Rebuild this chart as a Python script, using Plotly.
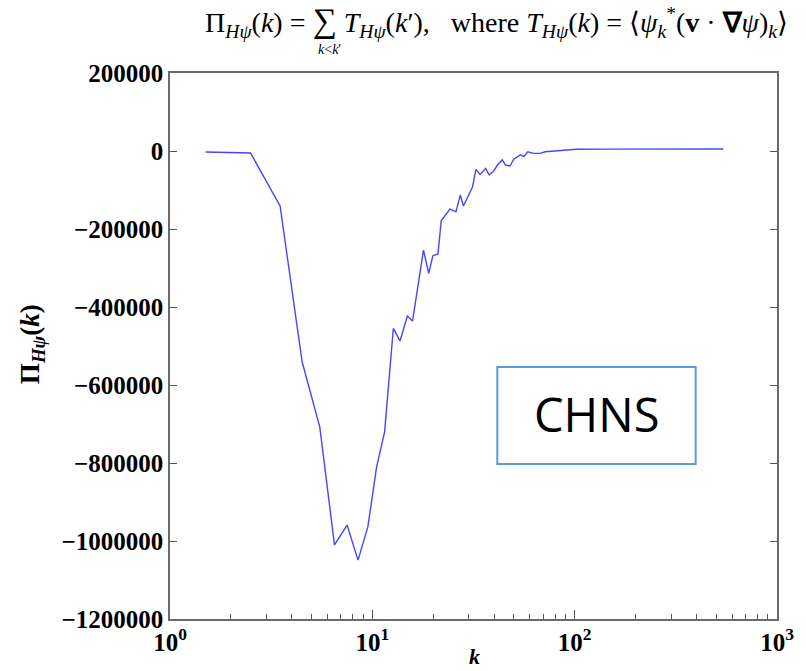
import plotly.graph_objects as go

# wavenumber k and flux Pi_Hpsi(k)
k_vals = [1.5, 2.5, 3.5, 4.5, 5.5, 6.5, 7.5, 8.5, 9.5, 10.5, 11.5,
          12.7, 13.7, 14.9, 15.8, 17.9, 19.0, 19.9, 21.1, 21.9, 24.2,
          25.9, 27.2, 28.2, 31.3, 32.5, 34.1, 36.3, 37.8, 39.9, 41.5,
          43.9, 45.5, 47.9, 50.0, 53.9, 56.1, 58.6, 62.8, 67.6, 71.5,
          78.7, 88.0, 102.0, 150.0, 250.0, 400.0, 543.0]
pi_vals = [-2500, -5000, -141000, -541000, -708000, -1010000, -959000,
           -1049000, -964000, -810000, -720000,
           -455000, -487000, -423000, -436000, -254000, -314000, -269000,
           -264000, -179000, -149000, -156000, -113000, -141000, -91500,
           -47000, -60000, -44500, -61500, -50500, -36000, -23000, -36000,
           -38500, -21000, -10000, -14500, -2000, -6000, -6000, -2000,
           0, 2500, 4300, 4800, 5000, 5000, 5000]

y_ticks = [200000, 0, -200000, -400000, -600000, -800000, -1000000, -1200000]
y_ticktext = ["200000", "0", "\u2212200000", "\u2212400000", "\u2212600000",
              "\u2212800000", "\u22121000000", "\u22121200000"]
x_ticks = [1, 10, 100, 1000]
x_ticktext = ["10<sup>0</sup>", "10<sup>1</sup>", "10<sup>2</sup>", "10<sup>3</sup>"]
x_minor = [m * d for d in (1, 10, 100) for m in range(2, 10)]

L, R, T, B = 170, 24, 73, 52
W, H = 806, 671
pw, ph = W - L - R, H - T - B


def px(x):
    return (x - L) / pw


def py(y):
    return (H - B - y) / ph


fig = go.Figure()
fig.add_trace(go.Scatter(x=k_vals, y=pi_vals, mode="lines",
                         line=dict(color="rgb(70,70,255)", width=1.4),
                         showlegend=False, hoverinfo="skip"))

axis_font = dict(family="Liberation Serif", size=25, color="black", weight="bold")
tick_col = "#555555"

fig.update_layout(
    xaxis=dict(type="log", range=[0, 3], tickmode="array",
               tickvals=x_ticks, ticktext=x_ticktext,
               showgrid=False, zeroline=False, showline=True, linecolor="#6a6a6a",
               linewidth=1.5, mirror=True, ticks="inside", ticklen=9,
               tickwidth=1.3, tickcolor=tick_col, tickfont=axis_font,
               minor=dict(tickvals=x_minor, ticks="inside",
                          ticklen=5, tickwidth=1.2, tickcolor=tick_col,
                          showgrid=False)),
    yaxis=dict(range=[-1200000, 200000], tickvals=y_ticks, ticktext=y_ticktext,
               showgrid=False, zeroline=False, showline=True, linecolor="#6a6a6a",
               linewidth=1.5, mirror="allticks", ticks="inside", ticklen=7,
               tickwidth=1.3, tickcolor=tick_col, tickfont=axis_font),
)

serif = "Liberation Serif"
anns = [
    dict(x=px(499), y=py(22), xref="paper", yref="paper", showarrow=False,
         xanchor="center", yanchor="middle",
         text=("\u03a0<sub><i>H\u03c8</i></sub>(<i>k</i>) = "
               "<span style='font-size:34px'>\u2211</span> "
               "<i>T</i><sub><i>H\u03c8</i></sub>(<i>k</i>\u2032),   where "
               "<i>T</i><sub><i>H\u03c8</i></sub>(<i>k</i>) = "
               "\u27e8<i>\u03c8</i><sub><i>k</i></sub><sup>*</sup>"
               "(<b>v</b> \u00b7 <b>\u2207</b><i>\u03c8</i>)<sub><i>k</i></sub>\u27e9"),
         font=dict(family=serif, size=28, color="black")),
    dict(x=px(331), y=py(50), xref="paper", yref="paper", showarrow=False,
         xanchor="center", yanchor="middle", text="<i>k</i>&lt;<i>k</i>\u2032",
         font=dict(family=serif, size=14, color="black")),
    dict(x=px(31), y=py(344), xref="paper", yref="paper", showarrow=False,
         xanchor="center", yanchor="middle", textangle=-90,
         text="\u03a0<sub><i>H\u03c8</i></sub>(<i>k</i>)",
         font=dict(family=serif, size=27, color="black", weight="bold")),
    dict(x=px(477), y=py(656), xref="paper", yref="paper", showarrow=False,
         xanchor="center", yanchor="middle", text="<i>k</i>",
         font=dict(family=serif, size=22, color="black", weight="bold")),
    dict(x=px(600), y=py(414), xref="paper", yref="paper", showarrow=False,
         xanchor="center", yanchor="middle", text="CHNS",
         font=dict(family="Open Sans", size=47, color="black")),
]
fig.update_layout(
    width=W, height=H, margin=dict(l=L, r=R, t=T, b=B),
    paper_bgcolor="white", plot_bgcolor="white",
    annotations=anns,
    shapes=[dict(type="rect", xref="paper", yref="paper",
                 x0=px(500), x1=px(700), y0=py(464), y1=py(367),
                 line=dict(color="#5b9bd5", width=2), fillcolor="rgba(0,0,0,0)")],
)
fig.write_html("out.html")
